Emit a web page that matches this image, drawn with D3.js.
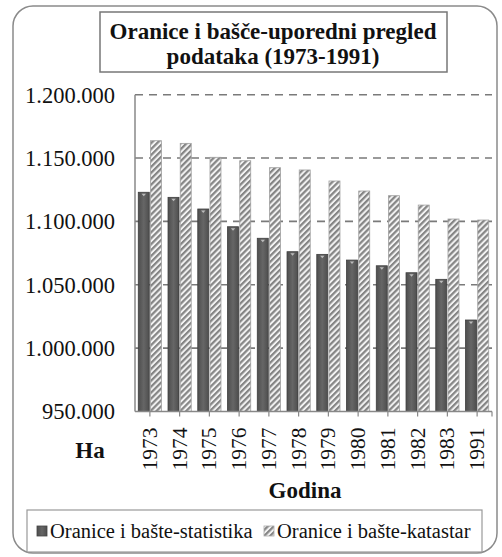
<!DOCTYPE html>
<html><head><meta charset="utf-8">
<script src="https://cdn.jsdelivr.net/npm/d3@7"></script>
<style>body{margin:0;background:#fff}svg{display:block}</style>
</head><body>
<script>
const categories = ["1973","1974","1975","1976","1977","1978","1979","1980","1981","1982","1983","1991"];
const statistika = [1123000,1119000,1109800,1095800,1086700,1076100,1074000,1069500,1065000,1059500,1054300,1022200];
const katastar  = [1163700,1161600,1150600,1147900,1142400,1140600,1131900,1124000,1120300,1112900,1101900,1101100];
const seriesNames = ["Oranice i bašte-statistika","Oranice i bašte-katastar"];
const yTicks = [950000,1000000,1050000,1100000,1150000,1200000];
const titleLines = ["Oranice i bašče-uporedni pregled","podataka (1973-1991)"];
const yLabel = "Ha", xLabel = "Godina";

const W=502,H=557;
const svg=d3.select("body").append("svg").attr("width",W).attr("height",H);
const defs=svg.append("defs");
const pat=defs.append("pattern").attr("id","hatch").attr("patternUnits","userSpaceOnUse")
  .attr("width",4.2).attr("height",4.2).attr("patternTransform","rotate(45)");
pat.append("rect").attr("width",4.2).attr("height",4.2).attr("fill","#f2f2f2");
pat.append("rect").attr("width",2.2).attr("height",4.2).attr("fill","#858585");
const grad=defs.append("linearGradient").attr("id","dark").attr("x1",0).attr("x2",1);
grad.append("stop").attr("offset",0).attr("stop-color","#4e4e4e");
grad.append("stop").attr("offset",0.5).attr("stop-color","#666");
grad.append("stop").attr("offset",1).attr("stop-color","#4e4e4e");

// outer frame
svg.append("rect").attr("x",13).attr("y",6).attr("width",484).attr("height",547)
  .attr("rx",20).attr("fill","#fff").attr("stroke","#8a8a8a").attr("stroke-width",1.5);

const serif="'Liberation Serif','Times New Roman',serif";
// title
svg.append("rect").attr("x",100).attr("y",12).attr("width",347).attr("height",60)
  .attr("fill","#fff").attr("stroke","#777").attr("stroke-width",1.5);
svg.append("text").attr("x",273).attr("y",39).attr("text-anchor","middle")
  .attr("font-family",serif).attr("font-weight","bold").attr("font-size",23).attr("fill","#111")
  .selectAll("tspan").data(titleLines).join("tspan").attr("x",273).attr("dy",(d,i)=>i?25:0).text(d=>d);

const plot={l:135,r:492,t:94.7,b:411.5};
const y=d3.scaleLinear().domain([950000,1200000]).range([plot.b,plot.t]);
const x=d3.scaleBand().domain(categories).range([plot.l,plot.r]).paddingInner(0.22).paddingOuter(0.11);
const xs=d3.scaleBand().domain([0,1]).range([0,x.bandwidth()]).paddingInner(0.1);
const xc=d3.scalePoint().domain(categories).range([plot.l,plot.r]).padding(0.5);

// gridlines
svg.append("g").selectAll("line").data(yTicks.slice(1)).join("line")
  .attr("x1",plot.l).attr("x2",plot.r).attr("y1",d=>y(d)).attr("y2",d=>y(d))
  .attr("stroke","#7a7a7a").attr("stroke-width",1.6).attr("stroke-dasharray","8,6");

// y labels
const fmt=v=>d3.format(",")(v).replace(/,/g,".");
svg.append("g").selectAll("text").data(yTicks).join("text")
  .attr("x",115).attr("y",d=>y(d)).attr("dy","0.35em").attr("text-anchor","end")
  .attr("font-family",serif).attr("font-size",22.5).attr("fill","#111").text(fmt);

// bars
const g=svg.append("g");
const data=categories.map((c,i)=>({c,v:[statistika[i],katastar[i]]}));
const grp=g.selectAll("g").data(data).join("g").attr("transform",d=>`translate(${x(d.c)},0)`);
grp.append("rect").attr("x",xs(0)).attr("width",xs.bandwidth())
  .attr("y",d=>y(d.v[0])).attr("height",d=>plot.b-y(d.v[0]))
  .attr("fill","url(#dark)").attr("stroke","#3e3e3e").attr("stroke-width",0.8);
grp.append("path").attr("d",d=>{const x0=xs(0),w=xs.bandwidth(),t=y(d.v[0]);
  return `M${x0+w*0.3},${t+1.5}L${x0+w*0.7},${t+1.5}L${x0+w*0.5},${t+4}Z`;}).attr("fill","#bbb");
grp.append("rect").attr("x",xs(1)).attr("width",xs.bandwidth())
  .attr("y",d=>y(d.v[1])).attr("height",d=>plot.b-y(d.v[1]))
  .attr("fill","url(#hatch)").attr("stroke","#a0a0a0").attr("stroke-width",0.8);

// axes lines
svg.append("line").attr("x1",plot.l).attr("x2",plot.l).attr("y1",plot.t).attr("y2",plot.b)
  .attr("stroke","#888").attr("stroke-width",1.5);
svg.append("line").attr("x1",plot.l).attr("x2",plot.r).attr("y1",plot.b).attr("y2",plot.b)
  .attr("stroke","#888").attr("stroke-width",1.5);
svg.append("g").selectAll("line").data(categories).join("line")
  .attr("x1",d=>xc(d)).attr("x2",d=>xc(d)).attr("y1",plot.b).attr("y2",plot.b+5)
  .attr("stroke","#888").attr("stroke-width",1.2);
svg.append("line").attr("x1",plot.r).attr("x2",plot.r).attr("y1",plot.b).attr("y2",plot.b+5)
  .attr("stroke","#888").attr("stroke-width",1.2);

// x labels rotated
svg.append("g").selectAll("text").data(categories).join("text")
  .attr("transform",d=>`translate(${xc(d)+7},${plot.b+16}) rotate(-90)`)
  .attr("text-anchor","end").attr("font-family",serif).attr("font-size",21.5).attr("fill","#111").text(d=>d);

svg.append("text").attr("x",90).attr("y",458).attr("text-anchor","middle")
  .attr("font-family",serif).attr("font-weight","bold").attr("font-size",23).attr("fill","#111").text(yLabel);
svg.append("text").attr("x",305).attr("y",498).attr("text-anchor","middle")
  .attr("font-family",serif).attr("font-weight","bold").attr("font-size",23).attr("fill","#111").text(xLabel);

// legend
svg.append("rect").attr("x",27).attr("y",510).attr("width",455).attr("height",42)
  .attr("fill","#fff").attr("stroke","#999").attr("stroke-width",1.2);
const lx=[37,264];
const lg=svg.append("g").selectAll("g").data(seriesNames).join("g").attr("transform",(d,i)=>`translate(${lx[i]},0)`);
lg.append("rect").attr("x",0).attr("y",526).attr("width",10).attr("height",10)
  .attr("fill",(d,i)=>i?"url(#hatch)":"url(#dark)").attr("stroke",(d,i)=>i?"#aaa":"#444").attr("stroke-width",0.8);
lg.append("text").attr("x",13).attr("y",538).attr("font-family",serif).attr("font-size",20.5).attr("fill","#111").text(d=>d);
</script>
</body></html>
